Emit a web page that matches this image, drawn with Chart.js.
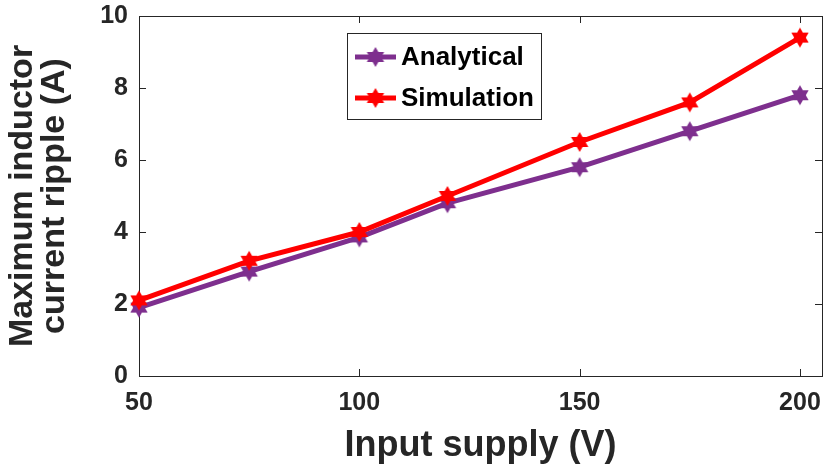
<!DOCTYPE html>
<html>
<head>
<meta charset="utf-8">
<script src="https://cdn.jsdelivr.net/npm/chart.js@4.4.1/dist/chart.umd.min.js"></script>
<style>
html, body { margin: 0; padding: 0; background: #fff; }
#wrap { width: 827px; height: 470px; }
</style>
</head>
<body>
<div id="wrap"><canvas id="rippleChart" width="827" height="470"></canvas></div>
<script>
// data
const inputVoltage = [50, 75, 100, 120, 150, 175, 200];
const analyticalRipple = [1.9, 2.9, 3.85, 4.8, 5.8, 6.8, 7.8];
const simulationRipple = [2.1, 3.2, 4.0, 5.0, 6.5, 7.6, 9.4];
const seriesNames = ['Analytical', 'Simulation'];
const xTicks = [50, 100, 150, 200];
const yTicks = [0, 2, 4, 6, 8, 10];

const axisColor = '#262626';
const fontFamily = "'Liberation Sans', Arial, Helvetica, sans-serif";

// filled six-pointed star marker
function hexagram(color, r) {
    const size = Math.ceil(r * 2 + 2);
    const c = document.createElement('canvas');
    c.width = size;
    c.height = size;
    const g = c.getContext('2d');
    const cx = size / 2, cy = size / 2, ri = r * 0.58;
    g.beginPath();
    for (let i = 0; i < 12; i++) {
        const rad = i % 2 === 0 ? r : ri;
        const a = -Math.PI / 2 + i * Math.PI / 6;
        const px = cx + rad * Math.cos(a), py = cy + rad * Math.sin(a);
        if (i === 0) g.moveTo(px, py); else g.lineTo(px, py);
    }
    g.closePath();
    g.fillStyle = color;
    g.fill();
    return c;
}

const purple = '#7E2F8E';
const red = '#FF0000';
const purpleStar = hexagram(purple, 10);
const redStar = hexagram(red, 10);

function toPoints(ys) {
    return inputVoltage.map((x, i) => ({ x: x, y: ys[i] }));
}

// axes box with inward ticks on all four sides (MATLAB look)
const boxPlugin = {
    id: 'boxPlugin',
    beforeDatasetsDraw(chart) {
        const { ctx, chartArea: a, scales } = chart;
        const tl = 7;
        ctx.save();
        ctx.strokeStyle = axisColor;
        ctx.lineWidth = 1;
        ctx.strokeRect(Math.round(a.left) + 0.5, Math.round(a.top) + 0.5,
            Math.round(a.right - a.left), Math.round(a.bottom - a.top));
        ctx.beginPath();
        xTicks.forEach(v => {
            const px = Math.round(scales.x.getPixelForValue(v)) + 0.5;
            ctx.moveTo(px, a.bottom); ctx.lineTo(px, a.bottom - tl);
            ctx.moveTo(px, a.top); ctx.lineTo(px, a.top + tl);
        });
        yTicks.forEach(v => {
            const py = Math.round(scales.y.getPixelForValue(v)) + 0.5;
            ctx.moveTo(a.left, py); ctx.lineTo(a.left + tl, py);
            ctx.moveTo(a.right, py); ctx.lineTo(a.right - tl, py);
        });
        ctx.stroke();
        ctx.restore();
    }
};

// boxed legend inside the plot, as in the figure
const legendBox = { left: 347, top: 33, width: 194, height: 86, rows: [57, 98], lineFrom: 355, lineTo: 396, textX: 401 };
const legendPlugin = {
    id: 'legendPlugin',
    afterDraw(chart) {
        const ctx = chart.ctx;
        const lb = legendBox;
        ctx.save();
        ctx.fillStyle = '#fff';
        ctx.fillRect(lb.left, lb.top, lb.width, lb.height);
        ctx.strokeStyle = axisColor;
        ctx.lineWidth = 1;
        ctx.strokeRect(lb.left + 0.5, lb.top + 0.5, lb.width, lb.height);
        chart.data.datasets.forEach((ds, i) => {
            const y = lb.rows[i];
            ctx.strokeStyle = ds.borderColor;
            ctx.lineWidth = ds.borderWidth;
            ctx.beginPath();
            ctx.moveTo(lb.lineFrom, y);
            ctx.lineTo(lb.lineTo, y);
            ctx.stroke();
            const img = ds.pointStyle;
            ctx.drawImage(img, (lb.lineFrom + lb.lineTo) / 2 - img.width / 2, y - img.height / 2);
            ctx.fillStyle = '#000';
            ctx.font = 'bold 26px ' + fontFamily;
            ctx.textBaseline = 'middle';
            ctx.textAlign = 'left';
            ctx.fillText(ds.label, lb.textX, y + 1);
        });
        ctx.restore();
    }
};

const ctx = document.getElementById('rippleChart').getContext('2d');
new Chart(ctx, {
    type: 'line',
    data: {
        datasets: [{
            label: seriesNames[0],
            data: toPoints(analyticalRipple),
            borderColor: purple,
            backgroundColor: purple,
            borderWidth: 5,
            pointStyle: purpleStar,
            order: 2,
            clip: false
        }, {
            label: seriesNames[1],
            data: toPoints(simulationRipple),
            borderColor: red,
            backgroundColor: red,
            borderWidth: 5,
            pointStyle: redStar,
            order: 1,
            clip: false
        }]
    },
    options: {
        responsive: false,
        animation: false,
        layout: { autoPadding: false, padding: { top: 16, right: 5, left: 0, bottom: 0 } },
        plugins: {
            legend: { display: false },
            tooltip: { enabled: false }
        },
        scales: {
            x: {
                type: 'linear',
                min: 50,
                max: 205,
                afterBuildTicks: s => { s.ticks = xTicks.map(v => ({ value: v })); },
                afterFit: s => { s.height = 94; s.paddingLeft = 0; s.paddingRight = 0; },
                grid: { display: false, drawTicks: false },
                border: { display: false },
                ticks: {
                    color: axisColor,
                    font: { family: fontFamily, size: 25, weight: 'bold' },
                    padding: 12,
                    maxRotation: 0,
                    autoSkip: false
                },
                title: {
                    display: true,
                    text: 'Input supply (V)',
                    color: axisColor,
                    font: { family: fontFamily, size: 36, weight: 'bold' },
                    padding: { top: 0, bottom: 2 }
                }
            },
            y: {
                min: 0,
                max: 10,
                afterBuildTicks: s => { s.ticks = yTicks.map(v => ({ value: v })); },
                afterFit: s => { s.width = 139; s.paddingTop = 0; s.paddingBottom = 0; },
                grid: { display: false, drawTicks: false },
                border: { display: false },
                ticks: {
                    color: axisColor,
                    font: { family: fontFamily, size: 25, weight: 'bold' },
                    padding: 11
                },
                title: {
                    display: true,
                    text: ['Maximum inductor', 'current ripple (A)'],
                    color: axisColor,
                    font: { family: fontFamily, size: 34, weight: 'bold', lineHeight: 0.93 },
                    padding: { top: 7, bottom: 0 }
                }
            }
        }
    },
    plugins: [boxPlugin, legendPlugin]
});
</script>
</body>
</html>
